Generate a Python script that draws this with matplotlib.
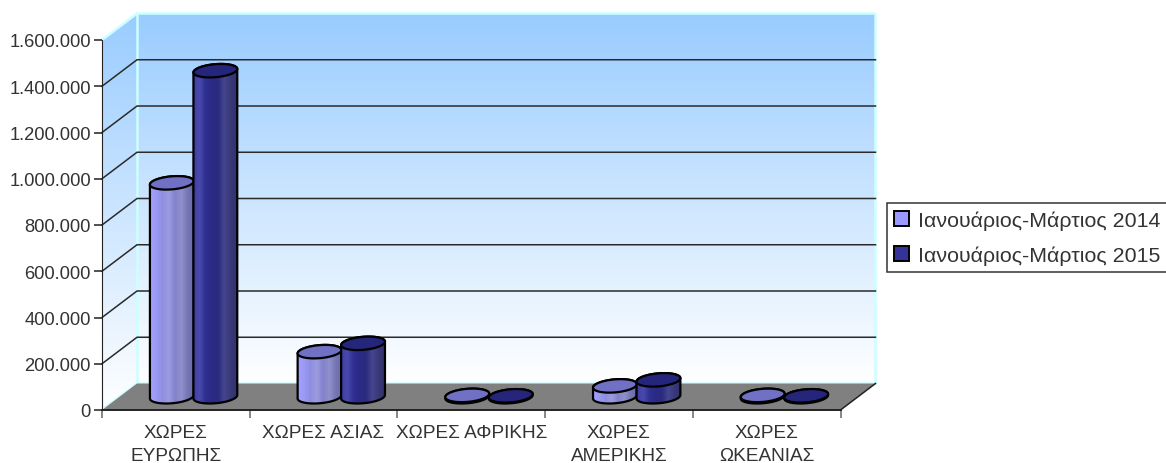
import numpy as np
import matplotlib
matplotlib.use("Agg")
import matplotlib.pyplot as plt
from matplotlib.colors import LinearSegmentedColormap
from matplotlib.patches import Patch, Polygon

plt.rcParams['font.family'] = ['Liberation Sans', 'DejaVu Sans']

# values
categories = ['ΧΩΡΕΣ\nΕΥΡΩΠΗΣ', 'ΧΩΡΕΣ ΑΣΙΑΣ', 'ΧΩΡΕΣ ΑΦΡΙΚΗΣ', 'ΧΩΡΕΣ\nΑΜΕΡΙΚΗΣ', 'ΧΩΡΕΣ\nΩΚΕΑΝΙΑΣ']
values_2014 = [925000, 195000, 6000, 47000, 6000]
values_2015 = [1410000, 231000, 4000, 73000, 4000]
series_names = ['Ιανουάριος-Μάρτιος 2014', 'Ιανουάριος-Μάρτιος 2015']
y_ticks = [0, 200000, 400000, 600000, 800000, 1000000, 1200000, 1400000, 1600000]

W, H = 1166, 464
fig = plt.figure(figsize=(W / 100, H / 100), dpi=100)
ax = fig.add_axes([102 / W, (H - 411) / H, 738.5 / W, 370 / H])
ax.set_xlim(0, 5)
ax.set_ylim(0, 1600000)

# size of one pixel in data units, used for the fake 3d depth
px = 5 / 738.5
py = 1600000 / 370
dx = 35 * px
dy = 26.5 * py
top = y_ticks[-1]
text_col = '#333333'


def fmt(v):
    return f'{v:,}'.replace(',', '.')


def grad(colors, poly, horizontal=False, z=1):
    # gradient image clipped to a polygon
    cmap = LinearSegmentedColormap.from_list('g', colors)
    xs, ys = poly[:, 0], poly[:, 1]
    data = np.linspace(0, 1, 256)
    data = data[None, :] if horizontal else data[:, None]
    im = ax.imshow(data, cmap=cmap, extent=[xs.min(), xs.max(), ys.min(), ys.max()],
                   origin='upper', aspect='auto', zorder=z)
    patch = Polygon(poly, closed=True, transform=ax.transData, fc='none', ec='none')
    ax.add_patch(patch)
    patch.set_clip_on(False)
    im.set_clip_box(fig.bbox)
    im.set_clip_path(patch)


wall_cols = ['#99CCFF', '#FFFFFF']
# back wall and side wall
back = np.array([[dx, dy], [5 + dx, dy], [5 + dx, top + dy], [dx, top + dy]])
side = np.array([[0, 0], [dx, dy], [dx, top + dy], [0, top]])
grad(wall_cols, back)
grad(wall_cols, side)

# pale wall border
ax.plot([0, dx, 5 + dx, 5 + dx], [top, top + dy, top + dy, dy], color='#CCFFFF', lw=1.8, zorder=1.5, clip_on=False)
ax.plot([dx, dx], [dy, top + dy], color='#CCFFFF', lw=1.8, zorder=1.5, clip_on=False)
ax.plot([0, dx, 5 + dx], [0, dy, dy], color='#CCFFFF', lw=1.8, zorder=1.5, clip_on=False)

# floor
ax.add_patch(Polygon([[0, 0], [5, 0], [5 + dx, dy], [dx, dy]], fc='#808080', ec='none', zorder=2, clip_on=False))
ax.plot([5, 5 + dx], [0, dy], color='#222222', lw=1.1, zorder=2.6, clip_on=False)

# grid lines on both walls
for t in y_ticks[1:-1]:
    ax.plot([0, dx, 5 + dx], [t, t + dy, t + dy], color='#2a2a2a', lw=1.1, zorder=3, clip_on=False)

body_2014 = ['#A3A3FF', '#9A9AF5', '#8E8EE0', '#9C9CE0', '#8282CC', '#9090CC', '#7676B4', '#6A6AA8']
body_2015 = ['#3C3CA6', '#4A4AAE', '#2F2F90', '#2A2A84', '#2B2B80', '#45458E', '#383878', '#33336F']


def ellipse(cx, cy, a=22, b=6.5, tilt=5):
    t = np.linspace(0, 2 * np.pi, 120)
    ang = np.radians(tilt)
    ex = a * np.cos(t) * np.cos(ang) - b * np.sin(t) * np.sin(ang)
    ey = a * np.cos(t) * np.sin(ang) + b * np.sin(t) * np.cos(ang)
    return np.column_stack([cx + ex * px, cy + ey * py])


def cylinder(cx, val, body, cap, z):
    base_y = dy / 2
    bot = ellipse(cx, base_y)
    upper = ellipse(cx, base_y + val)
    # body outline: lower half of base, then upper half of the top ellipse
    il = np.argmin(bot[:, 0])
    ir = np.argmax(bot[:, 0])
    lower_arc = np.array([p for p in bot if p[1] <= np.interp(p[0], [bot[il, 0], bot[ir, 0]], [bot[il, 1], bot[ir, 1]])])
    lower_arc = lower_arc[np.argsort(lower_arc[:, 0])]
    upper_arc = np.array([p for p in upper if p[1] >= np.interp(p[0], [upper[il, 0], upper[ir, 0]], [upper[il, 1], upper[ir, 1]])])
    upper_arc = upper_arc[np.argsort(-upper_arc[:, 0])]
    outline = np.vstack([lower_arc, upper_arc])
    grad(body, outline, horizontal=True, z=z)
    ax.add_patch(Polygon(outline, closed=True, fc='none', ec='black', lw=1.6, zorder=z + 0.1, clip_on=False))
    ax.add_patch(Polygon(upper, closed=True, fc=cap, ec='black', lw=1.6, zorder=z + 0.2, clip_on=False))


for i in range(len(categories)):
    centre = i + 0.5 + dx / 2
    cylinder(centre - 21.5 * px, values_2014[i], body_2014, '#7070C4', 4)
    cylinder(centre + 22 * px, values_2015[i], body_2015, '#25257C', 5)
ax.set_xlim(0, 5)
ax.set_ylim(0, 1600000)

# axes
for s in ['top', 'right']:
    ax.spines[s].set_visible(False)
ax.spines['left'].set_color('#222222')
ax.spines['bottom'].set_color('#222222')
ax.spines['bottom'].set_linewidth(1.4)
ax.spines['left'].set_zorder(6)
ax.spines['bottom'].set_zorder(6)
ax.patch.set_visible(False)

ax.set_yticks(y_ticks)
ax.set_yticklabels([fmt(t) for t in y_ticks], fontsize=13.2, color=text_col)
ax.tick_params(axis='y', length=6, width=1.1, color='#222222', pad=2)
ax.set_xticks(range(6))
ax.set_xticklabels([])
ax.tick_params(axis='x', length=6, width=1.1, color='#666666')
for i, c in enumerate(categories):
    ax.annotate(c, (i + 0.5, 0), xytext=(0, -10), textcoords='offset points', ha='center', va='top',
                fontsize=13.7, color=text_col, linespacing=1.5, annotation_clip=False)

handles = [Patch(fc='#9999FF', ec='black', lw=1.4), Patch(fc='#333399', ec='black', lw=1.4)]
leg = fig.legend(handles, series_names, loc='upper left', bbox_to_anchor=(887 / W, (H - 204) / H),
                 bbox_transform=fig.transFigure, fontsize=15.4, frameon=True, fancybox=False, edgecolor='#333333',
                 framealpha=1, handlelength=0.7, handleheight=0.7, handletextpad=0.42, labelspacing=0.72,
                 borderpad=0.35, borderaxespad=0, labelcolor=text_col)
leg.get_frame().set_linewidth(1.1)

fig.savefig('out.png', dpi=100, facecolor='white')
